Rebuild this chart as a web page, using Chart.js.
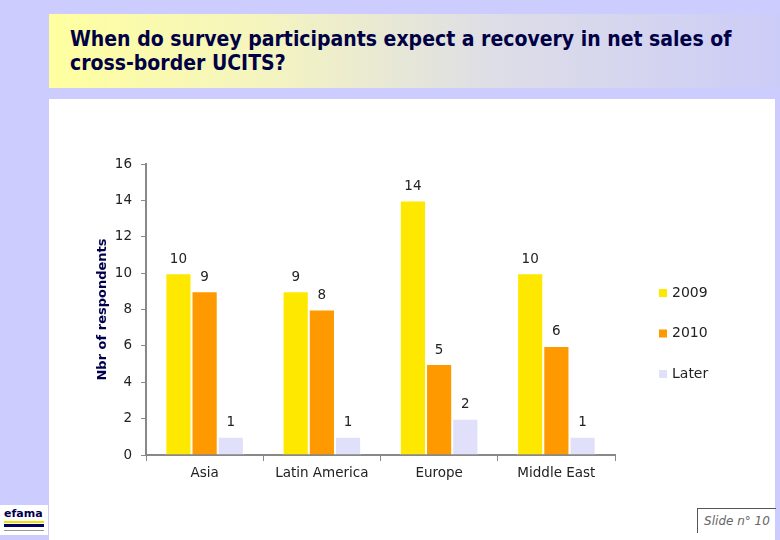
<!DOCTYPE html>
<html>
<head>
<meta charset="utf-8">
<script src="https://cdn.jsdelivr.net/npm/chart.js@4.4.1/dist/chart.umd.min.js"></script>
<style>
  html, body { margin: 0; padding: 0; }
  body { width: 780px; height: 540px; position: relative; overflow: hidden; background: #ccccfe; }
  #titleBox { position: absolute; left: 49px; top: 14px; width: 731px; height: 74px;
    background: linear-gradient(to right, #ffffa0 0%, #f4f4c0 30%, #dedee6 60%, #ccccf8 100%); }
  #titleBox div { position: absolute; left: 21px; top: 13px; font-family: "DejaVu Sans Condensed", "DejaVu Sans", sans-serif;
    font-weight: bold; font-size: 21px; line-height: 24px; color: #000045; }
  #panel { position: absolute; left: 49px; top: 99px; width: 726px; height: 441px; background: #ffffff; }
  #logo { position: absolute; left: 0; top: 505px; width: 48px; height: 30px; background: #ffffff; }
  #logo .t { position: absolute; left: 4px; top: 2px; font-family: "DejaVu Sans", sans-serif; font-weight: bold; font-size: 11px; color: #000050; }
  #logo .b1 { position: absolute; left: 4px; top: 16px; width: 40px; height: 2px; background: #f0e000; }
  #logo .b2 { position: absolute; left: 4px; top: 19px; width: 40px; height: 3px; background: #000060; }
  #logo .b3 { position: absolute; left: 4px; top: 25px; width: 40px; height: 1px; background: #999999; }
  #slide { position: absolute; left: 697px; top: 508px; width: 78px; height: 24px; border-left: 1px solid #555; border-top: 1px solid #555;
    font-family: "DejaVu Sans", sans-serif; font-style: italic; font-size: 12px; color: #666; line-height: 24px; text-align: center; }
  #chart { position: absolute; left: 0; top: 0; }
</style>
</head>
<body>
<div id="titleBox"><div>When do survey participants expect a recovery in net sales of<br>cross-border UCITS?</div></div>
<div id="panel"></div>
<div id="logo"><span class="t">efama</span><div class="b1"></div><div class="b2"></div><div class="b3"></div></div>
<div id="slide">Slide n° 10</div>
<canvas id="chart" width="780" height="540"></canvas>
<script>
// categories and series
let regions = ['Asia', 'Latin America', 'Europe', 'Middle East'];
let seriesNames = ['2009', '2010', 'Later'];
let values2009 = [10, 9, 14, 10];
let values2010 = [9, 8, 5, 6];
let valuesLater = [1, 1, 2, 1];
let yTicks = [0, 2, 4, 6, 8, 10, 12, 14, 16];

let colors = ['#ffe800', '#ff9900', '#e0e0fa'];
let tickFont = { family: 'DejaVu Sans', size: 13.5 };

// value labels above each bar
const valueLabels = {
  id: 'valueLabels',
  afterDatasetsDraw(chart) {
    const ctx = chart.ctx;
    ctx.save();
    ctx.font = '13.5px "DejaVu Sans"';
    ctx.fillStyle = '#222';
    ctx.textAlign = 'center';
    ctx.textBaseline = 'middle';
    chart.data.datasets.forEach((ds, i) => {
      chart.getDatasetMeta(i).data.forEach((bar, j) => {
        ctx.fillText(ds.data[j], bar.x, bar.y - 14);
      });
    });
    ctx.restore();
  }
};

// legend on the right, one row every 40px
const sideLegend = {
  id: 'sideLegend',
  afterDraw(chart) {
    const ctx = chart.ctx;
    ctx.save();
    ctx.font = '14px "DejaVu Sans"';
    ctx.textBaseline = 'middle';
    chart.data.datasets.forEach((ds, i) => {
      let y = 293 + i * 40.5;
      ctx.fillStyle = ds.backgroundColor;
      ctx.fillRect(659, y - 4, 8, 8);
      ctx.fillStyle = '#222';
      ctx.fillText(ds.label, 672, y);
    });
    ctx.restore();
  }
};

let datasets = [values2009, values2010, valuesLater].map((d, i) => ({
  label: seriesNames[i],
  data: d,
  backgroundColor: colors[i],
  borderColor: '#ffffff',
  borderWidth: 1,
  borderSkipped: 'start'
}));

new Chart(document.getElementById('chart'), {
  type: 'bar',
  data: { labels: regions, datasets: datasets },
  options: {
    responsive: false,
    animation: false,
    layout: { padding: { left: 0, top: 164, right: 165, bottom: 0 } },
    categoryPercentage: 0.67,
    barPercentage: 1,
    plugins: { legend: { display: false }, tooltip: { enabled: false } },
    scales: {
      x: {
        afterFit: s => { s.height = 85; },
        grid: { display: true, drawOnChartArea: false, drawTicks: true, tickLength: 6, color: '#888', offset: true },
        border: { color: '#888', width: 2 },
        ticks: { font: tickFont, color: '#222', padding: 4 }
      },
      y: {
        min: 0, max: 16,
        afterFit: s => { s.width = 146; },
        afterBuildTicks: s => { s.ticks = yTicks.map(v => ({ value: v })); },
        grid: { display: true, drawOnChartArea: false, drawTicks: true, tickLength: 5, color: '#888' },
        border: { color: '#888', width: 2 },
        ticks: { font: tickFont, color: '#222', padding: 9 },
        title: {
          display: true,
          text: 'Nbr of respondents',
          color: '#00004d',
          font: { family: 'DejaVu Sans', size: 13, weight: 'bold' },
          padding: { top: 95, bottom: 0 }
        }
      }
    }
  },
  plugins: [valueLabels, sideLegend]
});
</script>
</body>
</html>
